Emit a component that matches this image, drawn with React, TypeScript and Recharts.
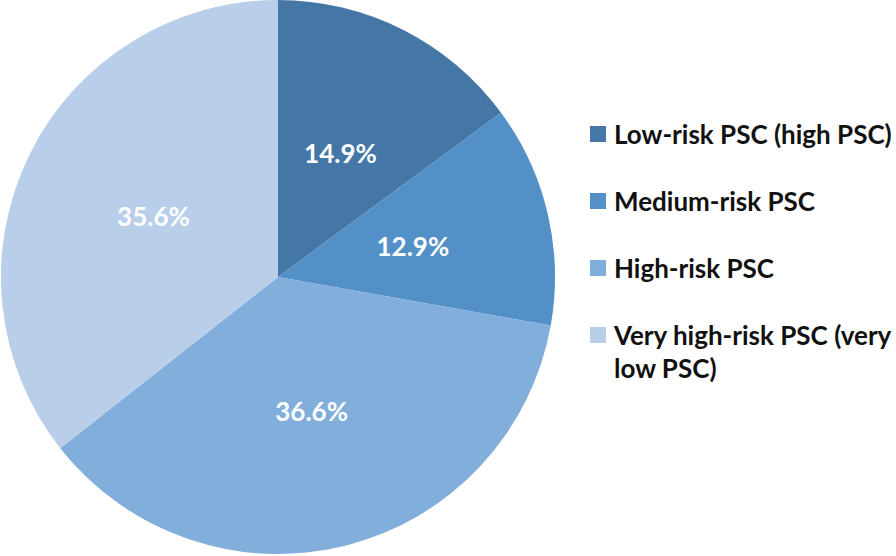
import React from 'react';
import { PieChart, Pie, Cell, Legend } from 'recharts';

const categories = [
  'Low-risk PSC (high PSC)',
  'Medium-risk PSC',
  'High-risk PSC',
  'Very high-risk PSC (very low PSC)',
];
const values = [14.9, 12.9, 36.6, 35.6];
const colors = ['#4577A6', '#5390C8', '#82AEDC', '#B9CEE9'];

const data = categories.map((name, i) => ({ name, value: values[i] }));

const FONT = 'Lato, "Open Sans", sans-serif';
const RAD = Math.PI / 180;

const renderLabel = (props: any) => {
  const { cx, cy, midAngle, outerRadius, value } = props;
  const r = outerRadius * 0.5;
  const x = cx + r * Math.cos(-midAngle * RAD);
  const y = cy + r * Math.sin(-midAngle * RAD);
  return (
    <text
      x={x}
      y={y}
      fill="#ffffff"
      textAnchor="middle"
      dominantBaseline="central"
      style={{ fontFamily: FONT, fontWeight: 700, fontSize: 26 }}
    >
      {value.toFixed(1)}%
    </text>
  );
};

const renderLegend = () => (
  <div style={{ fontFamily: FONT, fontWeight: 700, fontSize: 26, color: '#111111' }}>
    {categories.map((name, i) => (
      <div
        key={name}
        style={{ position: 'relative', paddingLeft: 24, width: 282, lineHeight: '33px', marginBottom: 34 }}
      >
        <span
          style={{
            position: 'absolute',
            left: 0,
            top: 8,
            width: 16,
            height: 16,
            background: colors[i],
          }}
        />
        {name}
      </div>
    ))}
  </div>
);

export default function App() {
  return (
    <div style={{ position: 'absolute', left: 0, top: 0, width: 896, height: 556, background: '#fff' }}>
      <PieChart width={896} height={556} margin={{ top: 0, right: 0, bottom: 0, left: 0 }}>
        <Pie
          data={data}
          dataKey="value"
          nameKey="name"
          cx={278}
          cy={277}
          outerRadius={277}
          startAngle={90}
          endAngle={-270}
          stroke="none"
          label={renderLabel}
          labelLine={false}
          isAnimationActive={false}
        >
          {data.map((d, i) => (
            <Cell key={d.name} fill={colors[i]} />
          ))}
        </Pie>
        <Legend
          content={renderLegend}
          wrapperStyle={{ position: 'absolute', left: 590, top: 118, width: 306 }}
        />
      </PieChart>
    </div>
  );
}
